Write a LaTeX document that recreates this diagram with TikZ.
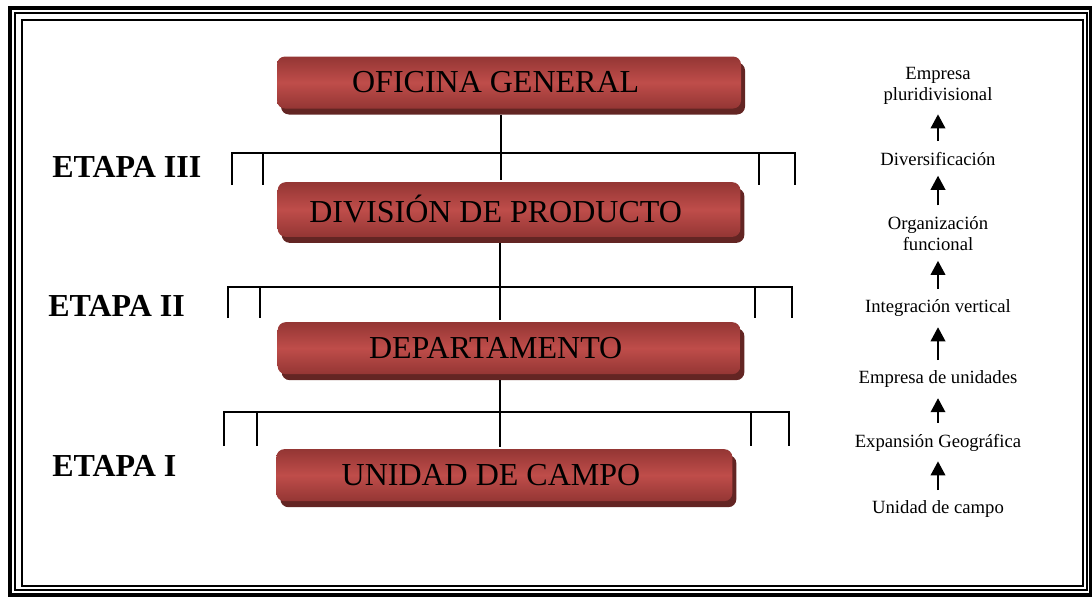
\documentclass[tikz,border=0pt]{standalone}
\usepackage{fontspec}
\setmainfont{Liberation Serif}
\usepackage{tikz}
\usetikzlibrary{arrows.meta}
\usetikzlibrary{shadows,positioning}
\tikzset{stage/.style={rounded corners=6pt, top color=stagedark, bottom color=stagedark, middle color=stagelight, minimum height=39pt, inner sep=0pt, font=\fontsize{24}{28}\selectfont, drop shadow={shadow xshift=3pt, shadow yshift=-4.5pt, fill=stageshadow, opacity=1}, execute at begin node={\hspace*{-20pt}}}}
\tikzset{etapa/.style={anchor=west, inner sep=0pt, font=\fontsize{24}{28}\selectfont\bfseries}}
\tikzset{paso/.style={align=center, inner sep=0pt, font=\fontsize{14}{15.75}\selectfont}}
\tikzset{rama/.style={line width=1.4pt}}
\definecolor{stagelight}{HTML}{BF4D4A}
\definecolor{stagedark}{HTML}{943634}
\definecolor{stageshadow}{HTML}{632523}

\begin{document}
\begin{tikzpicture}[x=0.75pt, y=-0.75pt, >={Triangle[width=11pt,length=10.5pt]}, on grid]
			\useasboundingbox (0,0) rectangle (1092,596);
			\draw[line width=3pt] (10,8) rectangle (1091,595);
			\draw[line width=1.5pt] (15,13) rectangle (1087,590);
			\draw[line width=1.5pt] (22,20) rectangle (1083,586);
			
			\node[stage, minimum width=348pt] (OG) at (509,82.5) {OFICINA GENERAL};
			\node[stage, minimum width=347pt, minimum height=41pt] (DP) [below = 95.25pt of OG] {DIVISIÓN DE PRODUCTO};
			\node[stage, minimum width=347pt] (DT) [below = 104pt of DP] {DEPARTAMENTO};
			\node[stage, minimum width=342pt, xshift=-3.5pt] (UC) [below = 95.25pt of DT] {UNIDAD DE CAMPO};
			
			\node[etapa] (E3) at (52,167) {ETAPA III};
			\node[etapa] (E2) at (48,306) {ETAPA II};
			\node[etapa] (E1) at (52,466) {ETAPA I};
			
			
			\coordinate (end3) at (501,180);
			\coordinate (end2) at (500,320);
			\coordinate (end1) at (500,447);
			\draw[rama, shorten <=4.5pt] (OG.south -| end3) -- (end3);
			\draw[rama, shorten <=4.5pt] (DP.south -| end2) -- (end2);
			\draw[rama, shorten <=4.5pt] (DT.south -| end1) -- (end1);
			
			\draw[rama] (232,185) |- (795,153) -- (795,185);
			\draw[rama] (263,153) -- (263,185);
			\draw[rama] (759,153) -- (759,185);
			\draw[rama] (228,318) |- (792,287) -- (792,318);
			\draw[rama] (260,287) -- (260,318);
			\draw[rama] (755,287) -- (755,318);
			\draw[rama] (224,446) |- (789,412) -- (789,446);
			\draw[rama] (257,412) -- (257,446);
			\draw[rama] (751,412) -- (751,446);
			
			
			\node[paso] (u1) at (938,509.5) {Unidad de campo};
			\node[paso] (u2) [above = 50.25pt of u1] {Expansión Geográfica};
			\node[paso] (u3) [above = 47.25pt of u2] {Empresa de unidades};
			\node[paso] (u4) [above = 53.25pt of u3] {Integración vertical};
			\node[paso] (u5) [above = 56.25pt of u4] {Organización\\funcional};
			\node[paso] (u6) [above = 56pt of u5] {Diversificación};
			\node[paso] (u7) [above = 55pt of u6] {Empresa\\pluridivisional};
			
			\tikzset{every path/.style={->, line width=1.1pt, shorten <=8pt, shorten >=7.5pt}}
			\draw (u1.north) -- (u2.south);
			\draw (u2.north) -- (u3.south);
			\draw (u3.north) -- (u4.south);
			\draw (u4.north) -- (u5.south);
			\draw (u5.north) -- (u6.south);
			\draw (u6.north) -- (u7.south);
		\end{tikzpicture}
\end{document}
